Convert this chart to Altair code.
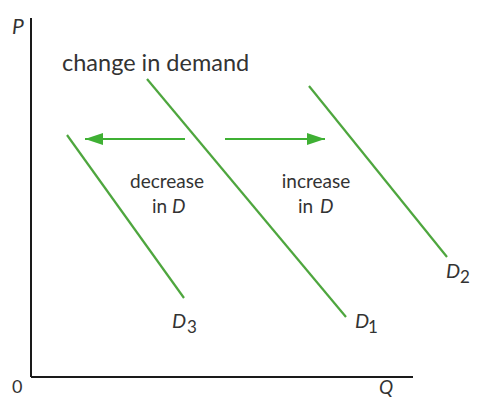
import altair as alt
import pandas as pd

# Demand curves (x = quantity units, y = price units)
curve_names = ["D1", "D1", "D2", "D2", "D3", "D3"]
curve_x = [116, 315, 278, 416, 36, 153]
curve_y = [298, 60, 291, 120, 242, 79]

# Arrow shafts
arrow_names = ["dec", "dec", "inc", "inc"]
arrow_x = [154, 54, 194, 294]
arrow_y = [238, 238, 238, 238]
# Arrow heads (tip position, direction angle)
head_x = [54, 294]
head_y = [238, 238]
head_angle = [0, 180]

# Axes
axis_names = ["P", "P", "Q", "Q"]
axis_x = [0, 0, 0, 382]
axis_y = [0, 359, 0, 0]

# Upright text, left aligned
left_text = ["change in demand", "in", "in", "0"]
left_x = [31, 121, 267, -19]
left_y = [306, 164, 164, -16]
left_size = [23.5, 19, 19, 18]

# Upright text, centred
ctr_text = ["decrease", "increase"]
ctr_x = [136, 285]
ctr_y = [189, 189]

# Italic text
it_text = ["D", "D", "D", "D", "D", "P", "Q"]
it_x = [141, 289, 141, 324, 415, -19, 348]
it_y = [164, 164, 49, 49, 99, 343, -17]
it_size = [19, 19, 20, 20, 20, 21, 19]

# Subscripts
sub_text = ["3", "1", "2"]
sub_x = [156, 337, 429]
sub_y = [44, 44, 94]

W, H = 463, 389
xs = alt.Scale(domain=[-23, W - 23], nice=False, zero=False)
ys = alt.Scale(domain=[369 - H, 369], nice=False, zero=False)

curves = pd.DataFrame({"c": curve_names, "x": curve_x, "y": curve_y})
arrows = pd.DataFrame({"c": arrow_names, "x": arrow_x, "y": arrow_y})
heads = pd.DataFrame({"x": head_x, "y": head_y, "a": head_angle})
axes = pd.DataFrame({"c": axis_names, "x": axis_x, "y": axis_y})
lt = pd.DataFrame({"t": left_text, "x": left_x, "y": left_y, "s": left_size})
ct = pd.DataFrame({"t": ctr_text, "x": ctr_x, "y": ctr_y})
it = pd.DataFrame({"t": it_text, "x": it_x, "y": it_y, "s": it_size})
sub = pd.DataFrame({"t": sub_text, "x": sub_x, "y": sub_y})

X = alt.X("x:Q", scale=xs, axis=None)
Y = alt.Y("y:Q", scale=ys, axis=None)

axis_layer = alt.Chart(axes).mark_line(color="#1a1a1a", strokeWidth=2, clip=False).encode(
    x=X, y=Y, detail="c:N")
curve_layer = alt.Chart(curves).mark_line(color="#4ea63e", strokeWidth=2.2).encode(
    x=X, y=Y, detail="c:N")
arrow_layer = alt.Chart(arrows).mark_line(color="#3fb034", strokeWidth=2).encode(
    x=X, y=Y, detail="c:N")
head_layer = alt.Chart(heads).mark_point(
    shape="M0,0 L2,-0.67 L2,0.67 Z", filled=True, color="#3fb034", opacity=1, size=324
).encode(x=X, y=Y, angle=alt.Angle("a:Q", scale=None))

left_layer = alt.Chart(lt).mark_text(font="Lato", color="#333333", baseline="alphabetic",
                                     align="left").encode(
    x=X, y=Y, text="t:N", size=alt.Size("s:Q", scale=None))
ctr_layer = alt.Chart(ct).mark_text(font="Lato", color="#333333", baseline="alphabetic",
                                    align="center", fontSize=19).encode(
    x=X, y=Y, text="t:N")
it_layer = alt.Chart(it).mark_text(font="Lato", fontStyle="italic", color="#333333",
                                   baseline="alphabetic", align="left").encode(
    x=X, y=Y, text="t:N", size=alt.Size("s:Q", scale=None))
sub_layer = alt.Chart(sub).mark_text(font="Lato", color="#333333", fontSize=17,
                                     baseline="alphabetic", align="left").encode(
    x=X, y=Y, text="t:N")

chart = alt.layer(axis_layer, curve_layer, arrow_layer, head_layer, left_layer, ctr_layer,
                  it_layer, sub_layer).properties(
    width=W, height=H, padding=0, background="white",
    autosize=alt.AutoSizeParams(type="none")
).configure_view(stroke=None)

chart.save("out.html", embed_options={"renderer": "svg", "actions": False})
